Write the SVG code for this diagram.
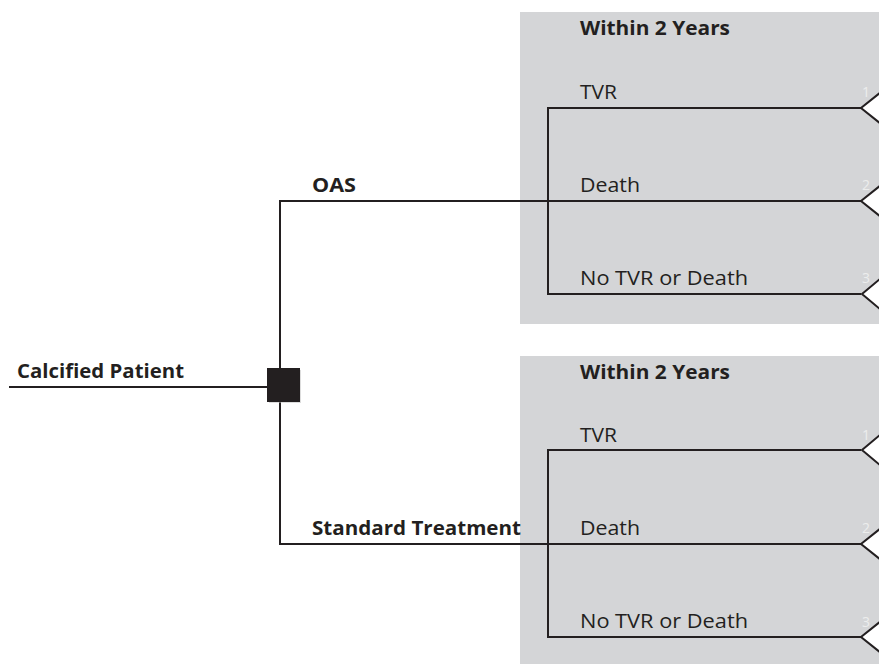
<svg xmlns="http://www.w3.org/2000/svg" width="879" height="664" viewBox="0 0 879 664">
<style>
.box{fill:#d4d5d7}
.ln{fill:none;stroke:#231f20;stroke-width:2}
.tri{fill:#fff;stroke:#231f20;stroke-width:2;stroke-linejoin:miter}
.b{font-family:"Open Sans","Liberation Sans",sans-serif;font-weight:bold;font-size:20px;fill:#231f20}
.r{font-family:"Open Sans","Liberation Sans",sans-serif;font-size:20px;fill:#231f20}
.n{font-family:"Open Sans","Liberation Sans",sans-serif;font-size:14px;fill:#eceded}
</style>
<rect width="879" height="664" fill="#fff"/>
<g id="box-oas">
<rect class="box" x="520" y="12" width="359" height="312"/>
<text class="b" x="580" y="35" textLength="150" lengthAdjust="spacingAndGlyphs">Within 2 Years</text>
<text class="r" x="580" y="99" textLength="37" lengthAdjust="spacingAndGlyphs">TVR</text>
<text class="r" x="580" y="192" textLength="60" lengthAdjust="spacingAndGlyphs">Death</text>
<text class="r" x="580" y="285" textLength="168" lengthAdjust="spacingAndGlyphs">No TVR or Death</text>
</g>
<g id="box-std">
<rect class="box" x="520" y="356" width="359" height="308"/>
<text class="b" x="580" y="379" textLength="150" lengthAdjust="spacingAndGlyphs">Within 2 Years</text>
<text class="r" x="580" y="442" textLength="37" lengthAdjust="spacingAndGlyphs">TVR</text>
<text class="r" x="580" y="535" textLength="60" lengthAdjust="spacingAndGlyphs">Death</text>
<text class="r" x="580" y="628" textLength="168" lengthAdjust="spacingAndGlyphs">No TVR or Death</text>
</g>
<g id="connectors">
<path class="ln" d="M9 387H268"/>
<path class="ln" d="M280 368V201H861"/>
<path class="ln" d="M280 401V544H861"/>
<path class="ln" d="M861 108H548V294H861"/>
<path class="ln" d="M861 450H548V637H861"/>
</g>
<g id="root">
<text class="b" x="17" y="378" textLength="167" lengthAdjust="spacingAndGlyphs">Calcified Patient</text>
</g>
<g id="decision">
<rect x="269" y="370" width="32" height="33" fill="#bbb" opacity="0.5"/>
<rect x="267" y="368" width="33" height="34" fill="#231f20"/>
</g>
<g id="label-oas"><text class="b" x="312" y="192" textLength="44" lengthAdjust="spacingAndGlyphs">OAS</text></g>
<g id="label-std"><text class="b" x="312" y="535" textLength="209" lengthAdjust="spacingAndGlyphs">Standard Treatment</text></g>
<g id="terminals">
<path class="tri" d="M881 92L861 108L881 124"/>
<path class="tri" d="M881 185L861 201L881 217"/>
<path class="tri" d="M881 278L862 294L881 310"/>
<path class="tri" d="M881 434L862 450L881 466"/>
<path class="tri" d="M881 528L861 544L881 560"/>
<path class="tri" d="M881 621L861 637L881 653"/>
<text class="n" x="862" y="97">1</text>
<text class="n" x="862" y="190">2</text>
<text class="n" x="862" y="283">3</text>
<text class="n" x="862" y="440">1</text>
<text class="n" x="862" y="533">2</text>
<text class="n" x="862" y="627">3</text>
</g>
</svg>
